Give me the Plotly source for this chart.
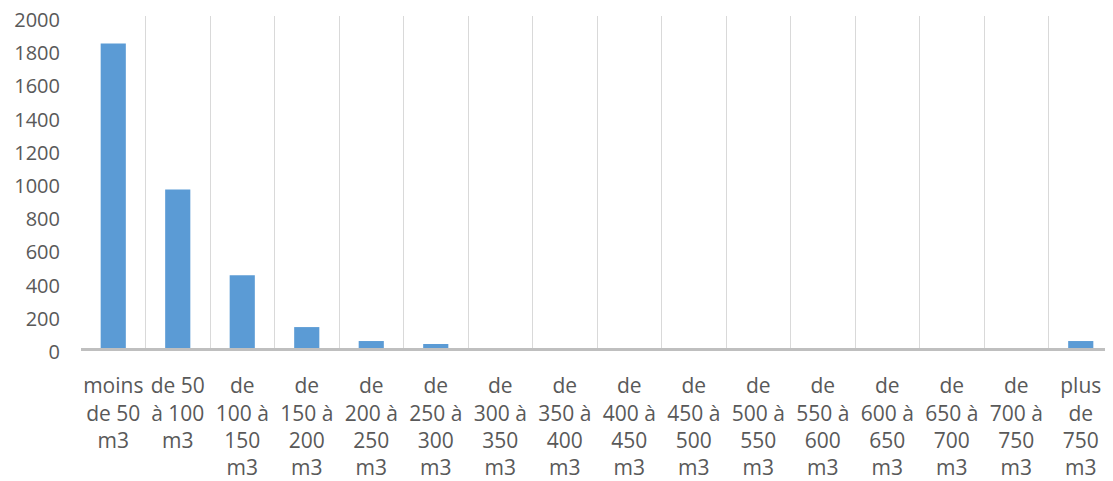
import plotly.graph_objects as go

categories = [
    "moins<br>de 50<br>m3", "de 50<br>à 100<br>m3", "de<br>100 à<br>150<br>m3", "de<br>150 à<br>200<br>m3",
    "de<br>200 à<br>250<br>m3", "de<br>250 à<br>300<br>m3", "de<br>300 à<br>350<br>m3", "de<br>350 à<br>400<br>m3",
    "de<br>400 à<br>450<br>m3", "de<br>450 à<br>500<br>m3", "de<br>500 à<br>550<br>m3", "de<br>550 à<br>600<br>m3",
    "de<br>600 à<br>650<br>m3", "de<br>650 à<br>700<br>m3", "de<br>700 à<br>750<br>m3", "plus<br>de<br>750<br>m3",
]
values = [1835, 955, 439, 126, 42, 24, 0, 0, 0, 0, 0, 0, 0, 0, 0, 42]
y_ticks = [0, 200, 400, 600, 800, 1000, 1200, 1400, 1600, 1800, 2000]

FONT = "Open Sans"
GREY = "#595959"

fig = go.Figure(go.Bar(x=categories, y=values, marker_color="#5b9bd5", marker_line_width=0))

# page body has an 8px margin, so the figure is sized/offset to compensate
fig.update_layout(
    width=1105, height=473,
    margin=dict(l=73, r=0, t=8, b=133),
    paper_bgcolor="white", plot_bgcolor="white",
    bargap=0.61, showlegend=False,
    font=dict(family=FONT, size=20, color=GREY),
)
fig.update_xaxes(
    type="category", tickson="boundaries", automargin=False,
    showgrid=True, gridcolor="#d9d9d9", gridwidth=1,
    showline=True, linecolor="#bfbfbf", linewidth=3,
    ticks="", ticklabelstandoff=17, ticklabeloverflow="allow",
    tickfont=dict(family=FONT, size=21, color=GREY),
    tickangle=0, fixedrange=True,
)
fig.update_yaxes(
    range=[0, 2000], tickvals=y_ticks, automargin=False,
    showgrid=False, zeroline=False, showline=False,
    ticks="", ticklabelstandoff=20, ticklabeloverflow="allow",
    ticklabelshift=4,
    tickfont=dict(family=FONT, size=20, color=GREY),
)

fig.write_html("out.html")
